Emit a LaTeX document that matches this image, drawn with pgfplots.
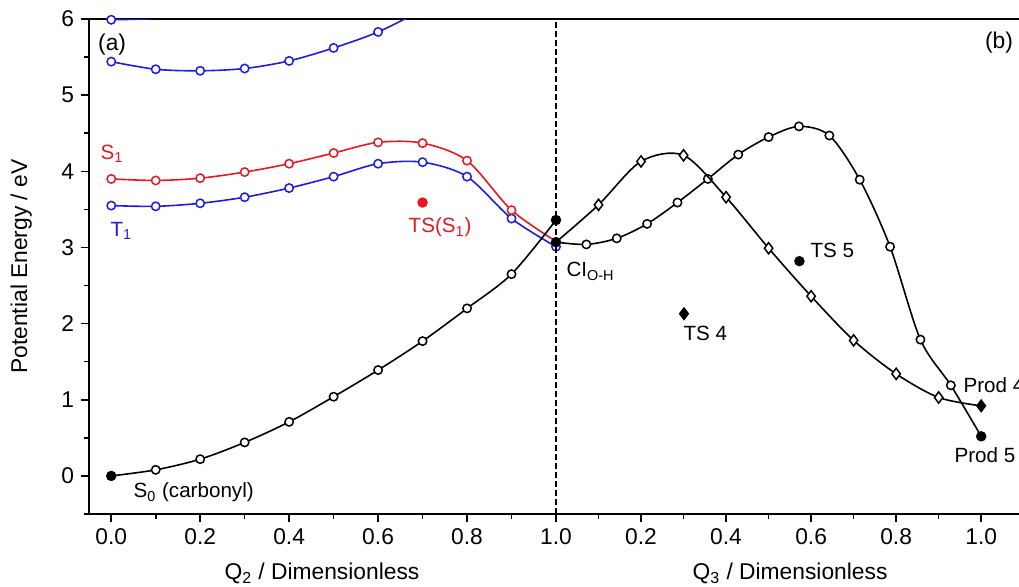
\documentclass[border=0pt]{standalone}
\usepackage{pgfplots}
\pgfplotsset{compat=1.18}
\usepackage{fontspec}
\setmainfont{Liberation Sans}
\definecolor{cred}{RGB}{232,24,32}
\definecolor{cblue}{RGB}{28,28,230}
\tikzset{annot/.style={inner sep=0pt, font=\fontsize{10.3}{12}\selectfont}}

\begin{document}
\begin{tikzpicture}[font=\fontsize{11.4}{14}\selectfont]
\begin{axis}[
  name=ax, scale only axis, width=465pt, height=247.5pt,
  xmin=-0.05, xmax=2.041, ymin=-0.5, ymax=6,
  axis x line*=box, axis y line*=left,
  xtick pos=bottom, ytick pos=left,
  tick align=outside,
  xtick={0,0.2,0.4,0.6,0.8,1.0,1.1912,1.3824,1.5736,1.7648,1.956},
  xticklabels={0.0,0.2,0.4,0.6,0.8,1.0,0.2,0.4,0.6,0.8,1.0},
  minor xtick={0.1,0.3,0.5,0.7,0.9,1.0956,1.2868,1.478,1.6692,1.8604},
  ytick={0,1,2,3,4,5,6},
  minor ytick={-0.5,0.5,1.5,2.5,3.5,4.5,5.5},
  major tick length=4pt, minor tick length=2.5pt,
  every tick/.style={black, line width=0.8pt},
  axis line style={line width=1pt},
  /pgf/number format/assume math mode=true,
  clip mode=individual,
  ylabel={Potential Energy / eV},
  ylabel style={at={(axis description cs:-0.073,0.5)}, anchor=center},
  every axis plot/.append style={line width=0.8pt},
]
% upper blue states
\addplot[cblue, smooth, mark=*, mark size=2.1pt, mark options={fill=white, line width=0.75pt}, mark indices={1}]
  coordinates {(0,5.99) (0.1,6.01) (0.2,6.1)};
\addplot[cblue, smooth, mark=*, mark size=2.1pt, mark options={fill=white, line width=0.75pt}, mark indices={1,2,3,4,5,6,7}]
  coordinates {(0,5.44) (0.1,5.34) (0.2,5.32) (0.3,5.35) (0.4,5.45) (0.5,5.62) (0.6,5.83) (0.7,6.12)};
% T1
\addplot[cblue, smooth, mark=*, mark size=2.1pt, mark options={fill=white, line width=0.75pt}]
  coordinates {(0,3.55) (0.1,3.54) (0.2,3.58) (0.3,3.66) (0.4,3.78) (0.5,3.93) (0.6,4.10) (0.7,4.12) (0.8,3.93) (0.9,3.38) (1.0,3.01)};
% S1
\addplot[cred, smooth, mark=*, mark size=2.1pt, mark options={fill=white, line width=0.75pt}, mark indices={1,2,3,4,5,6,7,8,9,10}]
  coordinates {(0,3.90) (0.1,3.88) (0.2,3.91) (0.3,3.99) (0.4,4.10) (0.5,4.24) (0.6,4.38) (0.7,4.37) (0.8,4.14) (0.9,3.49) (1.0,3.08)};
% TS(S1)
\addplot[cred, only marks, mark=*, mark size=2.2pt] coordinates {(0.70,3.59)};
% S0
\addplot[black, smooth, mark=*, mark size=2.1pt, mark options={fill=white, line width=0.75pt}, mark indices={2,3,4,5,6,7,8,9,10}]
  coordinates {(0,0) (0.1,0.08) (0.2,0.22) (0.3,0.44) (0.4,0.71) (0.5,1.04) (0.6,1.39) (0.7,1.77) (0.8,2.20) (0.9,2.65) (1.0,3.36)};
\addplot[black, only marks, mark=*, mark size=2.2pt] coordinates {(0,0) (1.0,3.36)};
% divider
\addplot[black, dashed, line width=0.6pt, dash pattern=on 3pt off 1.5pt] coordinates {(1,-0.5) (1,6)};
% Q3 path, circles (to Prod 5)
\addplot[black, smooth, mark=*, mark size=2.1pt, mark options={fill=white, line width=0.75pt}, mark indices={2,3,4,5,6,7,8,9,10,11,12,13,14}]
  table[x expr=1+0.956*\thisrow{q}, y=E] {
q E
0 3.07
0.0714 3.04
0.1429 3.12
0.2143 3.31
0.2857 3.59
0.3571 3.90
0.4286 4.22
0.5 4.45
0.5714 4.59
0.6429 4.47
0.7143 3.89
0.7857 3.01
0.8571 1.79
0.9286 1.19
1.0 0.52
};
% Q3 path, diamonds (to Prod 4)
\addplot[black, smooth, mark=diamond*, mark size=2.8pt, mark options={fill=white, line width=0.75pt}, mark indices={2,3,4,5,6,7,8,9,10}]
  table[x expr=1+0.956*\thisrow{q}, y=E] {
q E
0 3.07
0.1 3.56
0.2 4.13
0.3 4.21
0.4 3.66
0.5 2.99
0.6 2.36
0.7 1.78
0.8 1.34
0.9 1.03
1.0 0.92
};
\addplot[black, only marks, mark=*, mark size=2.2pt]
  table[x expr=1+0.956*\thisrow{q}, y=E] {
q E
0 3.07
0.5725 2.82
1.0 0.52
};
\addplot[black, only marks, mark=diamond*, mark size=2.8pt]
  table[x expr=1+0.956*\thisrow{q}, y=E] {
q E
0.301 2.13
1.0 0.92
};
% labels
\node[anchor=center, inner sep=0] at (axis cs:0.002,5.67) {(a)};
\node[anchor=center, inner sep=0] at (axis cs:1.996,5.685) {(b)};
\node[annot, anchor=base west, text=cred] at (axis cs:-0.0247,4.15) {S\textsubscript{1}};
\node[annot, anchor=base west, text=cblue] at (axis cs:-0.0022,3.14) {T\textsubscript{1}};
\node[annot, anchor=base west] at (axis cs:0.0495,-0.289) {S\textsubscript{0} (carbonyl)};
\node[annot, anchor=base west, text=cred] at (axis cs:0.668,3.19) {TS(S\textsubscript{1})};
\node[annot, anchor=base west] at (axis cs:1.0229,2.613) {CI\textsubscript{O-H}};
\node[annot, anchor=base west] at (axis cs:1.5715,2.862) {TS 5};
\node[annot, anchor=base west] at (axis cs:1.286,1.772) {TS 4};
\node[annot, anchor=base west] at (axis cs:1.9155,1.09) {Prod 4};
\node[annot, anchor=base west] at (axis cs:1.8952,0.171) {Prod 5};
\node[anchor=base, inner sep=0] at (axis description cs:0.2505,-0.1333) {Q\textsubscript{2} / Dimensionless};
\node[anchor=base, inner sep=0] at (axis description cs:0.7538,-0.1333) {Q\textsubscript{3} / Dimensionless};
\end{axis}
\pgfresetboundingbox
\useasboundingbox (-44.5pt,-36pt) rectangle (465pt,257pt);
\end{tikzpicture}
\end{document}
